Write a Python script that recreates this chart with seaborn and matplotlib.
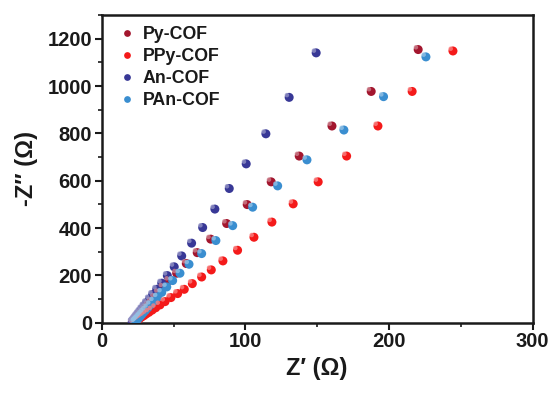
import numpy as np
import pandas as pd
import matplotlib
matplotlib.use("Agg")
import matplotlib.pyplot as plt
import seaborn as sns
from matplotlib.ticker import MultipleLocator
from matplotlib.path import Path
from matplotlib.colors import to_rgb

series_names = ["Py-COF", "PPy-COF", "An-COF", "PAn-COF"]
colors = ["#A3162E", "#F41A1A", "#383896", "#3A8ED0"]

py_x = [220.3, 187.6, 160.3, 137.5, 118.0, 101.3, 87.0, 75.9, 66.5, 58.9, 52.2, 46.8, 42.7,
        39.5, 36.8, 34.5, 32.5, 30.8, 29.3, 28.0, 26.9, 25.9, 25.0, 24.3, 23.7, 23.2, 22.8, 22.5]
py_y = [1154, 977, 831, 704, 595, 499, 419, 353, 296, 250, 209, 178, 150,
        127, 107, 90, 76, 63, 52, 43, 35, 28, 22, 16, 12, 8, 5, 3]

ppy_x = [244.5, 216.1, 192.3, 170.5, 150.7, 133.3, 118.5, 106.0, 94.6, 84.4, 76.3, 69.6, 63.1,
         57.5, 52.9, 48.2, 44.1, 40.6, 37.6, 35.1, 32.9, 31.0, 29.4, 28.0, 26.8, 25.8, 24.9,
         24.1, 23.5, 22.9, 22.4, 22.0, 21.6]
ppy_y = [1148, 977, 831, 704, 595, 502, 425, 361, 306, 261, 223, 193, 165,
         141, 123, 106, 89, 75, 63, 53, 44, 37, 30, 25, 20, 16, 12,
         9, 7, 5, 3, 2, 1]

an_x = [149.3, 130.5, 114.3, 100.6, 88.8, 78.8, 70.3, 62.6, 55.7, 50.5, 45.7, 41.8, 38.3,
        35.5, 33.2, 31.2, 29.5, 28.0, 26.7, 25.6, 24.6, 23.8, 23.1, 22.5, 22.0, 21.6, 21.3]
an_y = [1140, 952, 798, 671, 567, 480, 402, 336, 282, 236, 199, 167, 141,
        119, 100, 84, 70, 58, 47, 38, 30, 23, 17, 12, 8, 5, 3]

pan_x = [225.7, 196.2, 168.6, 142.9, 122.5, 105.1, 91.2, 79.5, 69.6, 60.8, 54.5, 49.4,
         45.3, 41.8, 38.8, 36.2, 34.0, 32.1, 30.5, 29.1, 27.9, 26.9, 26.0, 25.2, 24.5, 24.0, 23.5, 23.1]
pan_y = [1123, 955, 814, 688, 578, 488, 410, 347, 292, 247, 209, 178,
         151, 128, 108, 91, 76, 63, 52, 43, 35, 28, 22, 16, 12, 8, 5, 3]

x_ticks = [0, 100, 200, 300]
y_ticks = [0, 200, 400, 600, 800, 1000, 1200]

frames = []
for name, xs, ys in [("Py-COF", py_x, py_y), ("PPy-COF", ppy_x, ppy_y),
                     ("An-COF", an_x, an_y), ("PAn-COF", pan_x, pan_y)]:
    frames.append(pd.DataFrame({"Zr": xs, "Zi": ys, "Sample": name}))
df = pd.concat(frames, ignore_index=True)

sns.set_style("ticks")
plt.rcParams["font.family"] = ["Liberation Sans", "DejaVu Sans"]
plt.rcParams["font.weight"] = "bold"

fig = plt.figure(figsize=(5.55, 3.98), dpi=100)
ax = fig.add_axes([0.1832, 0.1892, 0.9598 - 0.1832, 0.9623 - 0.1892])

sns.scatterplot(data=df, x="Zr", y="Zi", hue="Sample", hue_order=series_names,
                palette=colors, s=42, edgecolor="none", linewidth=0, ax=ax, zorder=3)

# small highlight to mimic the shaded sphere markers
circ = Path.unit_circle()
hl_marker = Path(circ.vertices * 0.35 + np.array([-0.35, 0.35]), circ.codes)
light = [tuple(0.55 * np.array(to_rgb(c)) + 0.45) for c in colors]
sns.scatterplot(data=df, x="Zr", y="Zi", hue="Sample", hue_order=series_names,
                palette=light, s=42, marker=hl_marker, edgecolor="none", linewidth=0,
                ax=ax, zorder=4, legend=False, alpha=0.8)

ax.set_xlim(0, 300)
ax.set_ylim(0, 1300)
ax.set_xticks(x_ticks)
ax.set_yticks(y_ticks)
ax.xaxis.set_minor_locator(MultipleLocator(50))
ax.yaxis.set_minor_locator(MultipleLocator(100))
ax.tick_params(which="major", direction="out", length=5, width=1.5, labelsize=14.5, pad=2,
               colors="#1a1a1a")
ax.tick_params(which="minor", direction="out", length=3, width=1.2, colors="#1a1a1a")
for lbl in ax.get_xticklabels() + ax.get_yticklabels():
    lbl.set_fontweight("bold")
for sp in ax.spines.values():
    sp.set_linewidth(1.8)
    sp.set_color("#1a1a1a")

ax.set_xlabel("Z\u2032 (\u03A9)", fontsize=17, fontweight="bold", labelpad=4, color="#1a1a1a")
ax.set_ylabel("-Z\u2033 (\u03A9)", fontsize=17, fontweight="bold", labelpad=7, color="#1a1a1a")

leg = ax.legend(loc="upper left", frameon=False, fontsize=12.8, handletextpad=0.3,
                labelspacing=0.28, borderaxespad=0.0, markerscale=0.75,
                bbox_to_anchor=(0.017, 0.988), handlelength=1.2)
for t in leg.get_texts():
    t.set_fontweight("bold")
    t.set_color("#1a1a1a")

fig.savefig("out.png", dpi=100)
